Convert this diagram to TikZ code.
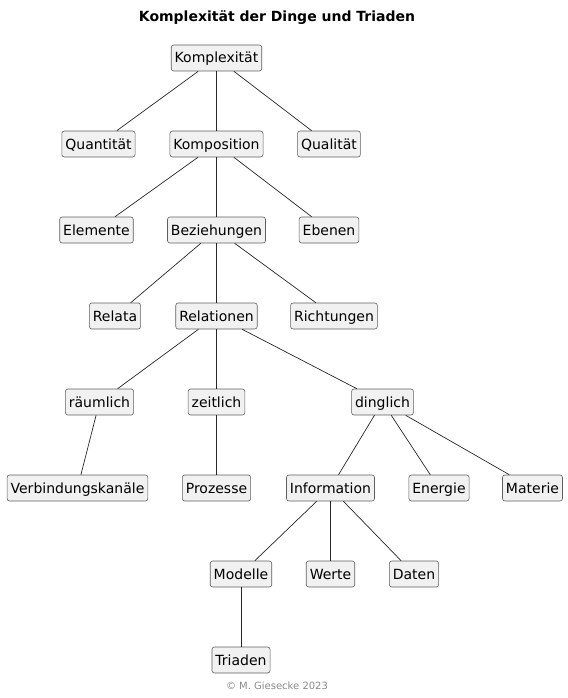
\documentclass[tikz,border=0pt]{standalone}
\usepackage{fontspec}
\setmainfont{DejaVu Sans}
\definecolor{boxfill}{HTML}{F1F1F1}
\definecolor{boxline}{HTML}{5F5F5F}
\definecolor{footgray}{HTML}{8A8A8A}
\begin{document}
\begin{tikzpicture}[x=1pt,y=-1pt,
  wbs/.style={draw=boxline,fill=boxfill,rounded corners=2.5pt,line width=0.6pt,
    inner xsep=3.5pt,inner ysep=0pt,minimum height=26pt,text height=12pt,text depth=2pt,
    font=\fontsize{14}{16}\selectfont,text=black},
  link/.style={draw=black!85,line width=0.7pt}]
\useasboundingbox (0,0) rectangle (567,698);
\node[font=\bfseries\fontsize{14}{16}\selectfont] (title) at (277,18) {Komplexität der Dinge und Triaden};
\node[wbs] (k) at (216.5,58) {Komplexität};
\node[wbs] (quan) at (98.5,144) {Quantität};
\node[wbs] (komp) at (216.5,144) {Komposition};
\node[wbs] (qual) at (329,144) {Qualität};
\node[wbs] (elem) at (96.5,230) {Elemente};
\node[wbs] (bez) at (216.5,230) {Beziehungen};
\node[wbs] (eb) at (329,230) {Ebenen};
\node[wbs] (rel) at (115,316) {Relata};
\node[wbs] (relat) at (216.5,316) {Relationen};
\node[wbs] (richt) at (334,316) {Richtungen};
\node[wbs] (raum) at (99.5,402) {räumlich};
\node[wbs] (zeit) at (216.5,402) {zeitlich};
\node[wbs] (ding) at (382.5,402) {dinglich};
\node[wbs] (verb) at (77.5,488) {Verbindungskanäle};
\node[wbs] (proz) at (216.5,488) {Prozesse};
\node[wbs] (info) at (330.5,488) {Information};
\node[wbs] (ener) at (439,488) {Energie};
\node[wbs] (mat) at (532.5,488) {Materie};
\node[wbs] (mod) at (241,574) {Modelle};
\node[wbs] (wert) at (330.5,574) {Werte};
\node[wbs] (dat) at (414,574) {Daten};
\node[wbs] (tri) at (241,660) {Triaden};
\node[font=\fontsize{10}{12}\selectfont,text=footgray] (foot) at (277,686) {© M. Giesecke 2023};
\foreach \a/\b in {k/quan,k/komp,k/qual,komp/elem,komp/bez,komp/eb,bez/rel,bez/relat,bez/richt,
  relat/raum,relat/zeit,relat/ding,raum/verb,zeit/proz,ding/info,ding/ener,ding/mat,
  info/mod,info/wert,info/dat,mod/tri}
  \draw[link] (\a) -- (\b);
\end{tikzpicture}
\end{document}
